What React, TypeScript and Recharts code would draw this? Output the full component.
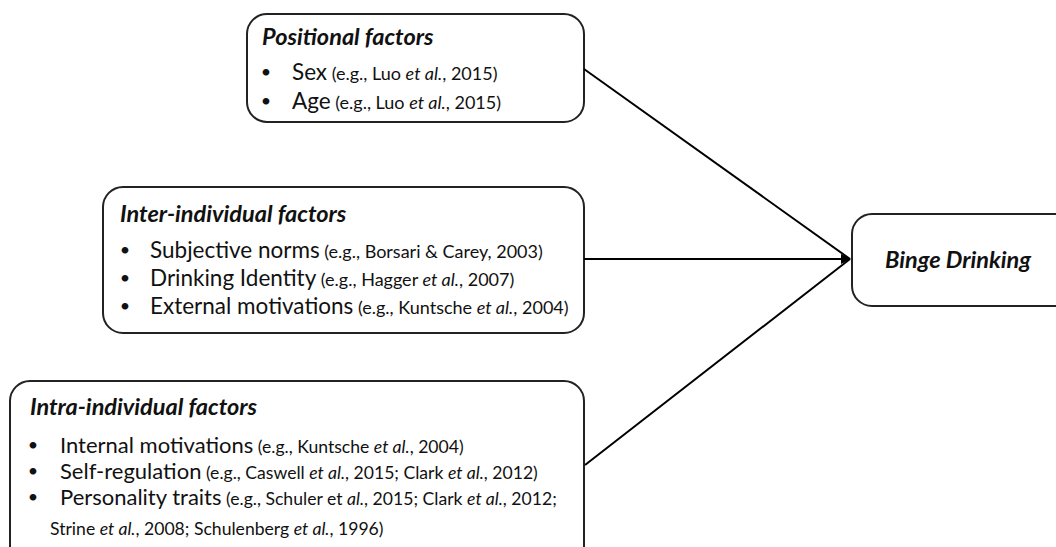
import {
  ScatterChart,
  Scatter,
  XAxis,
  YAxis,
  ReferenceArea,
  ReferenceLine,
} from "recharts";

// content
const groupTitles = [
  "Positional factors",
  "Inter-individual factors",
  "Intra-individual factors",
];

const factorNames = [
  ["Sex", "Age"],
  ["Subjective norms", "Drinking Identity", "External motivations"],
  ["Internal motivations", "Self-regulation", "Personality traits"],
];

// words between underscores are set in italics
const factorCitations = [
  ["(e.g., Luo _et al._, 2015)", "(e.g., Luo _et al._, 2015)"],
  [
    "(e.g., Borsari & Carey, 2003)",
    "(e.g., Hagger _et al._, 2007)",
    "(e.g., Kuntsche _et al._, 2004)",
  ],
  [
    "(e.g., Kuntsche _et al._, 2004)",
    "(e.g., Caswell _et al._, 2015; Clark _et al._, 2012)",
    "(e.g., Schuler et _al._, 2015; Clark _et al._, 2012;",
  ],
];

const citationOverflow = "Strine _et al._, 2008; Schulenberg _et al._, 1996)";
const outcomeLabel = "Binge Drinking";

// layout, in page pixels (the axes map 1:1 onto the svg)
const W = 1056;
const H = 547;

const groupFrames = [
  { x1: 247, x2: 584, y1: 14, y2: 122 },
  { x1: 103, x2: 584, y1: 187, y2: 333 },
  { x1: 10, x2: 584, y1: 381, y2: 580 },
];
const outcomeFrame = { x1: 852, x2: 1090, y1: 214, y2: 306 };

const titleAnchors = [
  { x: 262, y: 37 },
  { x: 120, y: 214 },
  { x: 30, y: 407 },
];
const bulletX = [266, 125, 33];
const itemX = [292, 150, 60];
const rowY = [
  [72, 101],
  [250, 278, 306],
  [445, 471, 497],
];
const overflowAnchor = { x: 50, y: 529 };
const outcomeAnchor = { x: 958, y: 260 };

const linkStarts = [
  { x: 584, y: 69 },
  { x: 584, y: 259 },
  { x: 585, y: 465 },
];
const linkEnd = { x: 850, y: 259 };

const FONT = "Lato, 'Open Sans', sans-serif";
const INK = "#111";
const MAIN_SIZE = [22.5, 22.5, 22];
const CITE_SIZE = [18, 18, 17.6];
const TITLE_SIZE = 23.5;

const titlePoints = groupTitles.map((label, i) => ({ ...titleAnchors[i], label }));
const bulletPoints = rowY.flatMap((rows, g) => rows.map((y) => ({ x: bulletX[g], y })));
const itemPoints = factorNames.flatMap((names, g) =>
  names.map((name, k) => ({
    x: itemX[g],
    y: rowY[g][k],
    group: g,
    name,
    cite: factorCitations[g][k],
  }))
);
const overflowPoints = [{ ...overflowAnchor, cite: citationOverflow }];
const outcomePoints = [{ ...outcomeAnchor, label: outcomeLabel }];
const tipPoints = [linkEnd];

function citeSpans(s: string) {
  return s.split("_").map((part, i) => (
    <tspan key={i} fontStyle={i % 2 ? "italic" : "normal"}>
      {part}
    </tspan>
  ));
}

const roundedBox = (props: any) => (
  <rect
    x={props.x}
    y={props.y}
    width={props.width}
    height={props.height}
    rx={20}
    ry={20}
    fill="#fff"
    stroke="#222"
    strokeWidth={2}
  />
);

export default function App() {
  return (
    <div style={{ position: "absolute", left: 0, top: 0, background: "#fff" }}>
      <ScatterChart width={W} height={H} margin={{ top: 0, right: 0, bottom: 0, left: 0 }}>
        <XAxis type="number" dataKey="x" domain={[0, W]} hide />
        <YAxis type="number" dataKey="y" domain={[0, H]} reversed hide />

        {groupFrames.map((f, i) => (
          <ReferenceArea key={`box-${i}`} {...f} ifOverflow="visible" shape={roundedBox} />
        ))}
        <ReferenceArea {...outcomeFrame} ifOverflow="visible" shape={roundedBox} />

        {linkStarts.map((s, i) => (
          <ReferenceLine
            key={`link-${i}`}
            segment={[s, linkEnd]}
            stroke="#000"
            strokeWidth={2}
            ifOverflow="visible"
          />
        ))}

        <Scatter
          data={tipPoints}
          isAnimationActive={false}
          shape={(p: any) => (
            <path
              d={`M${p.cx + 1},${p.cy} L${p.cx - 9},${p.cy - 5} L${p.cx - 9},${p.cy + 5} Z`}
              fill="#000"
            />
          )}
        />

        <Scatter
          data={titlePoints}
          isAnimationActive={false}
          shape={(p: any) => (
            <text
              x={p.cx}
              y={p.cy + 8}
              fontFamily={FONT}
              fontSize={TITLE_SIZE}
              fontWeight={700}
              fontStyle="italic"
              fill={INK}
            >
              {p.payload.label}
            </text>
          )}
        />

        <Scatter
          data={bulletPoints}
          isAnimationActive={false}
          shape={(p: any) => (
            <text
              x={p.cx}
              y={p.cy + 6}
              textAnchor="middle"
              fontFamily={FONT}
              fontSize={18}
              fill={INK}
            >
              •
            </text>
          )}
        />

        <Scatter
          data={itemPoints}
          isAnimationActive={false}
          shape={(p: any) => (
            <text x={p.cx} y={p.cy + 8} fontFamily={FONT} fill={INK}>
              <tspan fontSize={MAIN_SIZE[p.payload.group]}>{p.payload.name}</tspan>
              <tspan fontSize={CITE_SIZE[p.payload.group]}> {citeSpans(p.payload.cite)}</tspan>
            </text>
          )}
        />

        <Scatter
          data={overflowPoints}
          isAnimationActive={false}
          shape={(p: any) => (
            <text x={p.cx} y={p.cy + 6} fontFamily={FONT} fontSize={CITE_SIZE[2]} fill={INK}>
              {citeSpans(p.payload.cite)}
            </text>
          )}
        />

        <Scatter
          data={outcomePoints}
          isAnimationActive={false}
          shape={(p: any) => (
            <text
              x={p.cx}
              y={p.cy + 8}
              textAnchor="middle"
              fontFamily={FONT}
              fontSize={TITLE_SIZE}
              fontWeight={700}
              fontStyle="italic"
              fill={INK}
            >
              {p.payload.label}
            </text>
          )}
        />
      </ScatterChart>
    </div>
  );
}
